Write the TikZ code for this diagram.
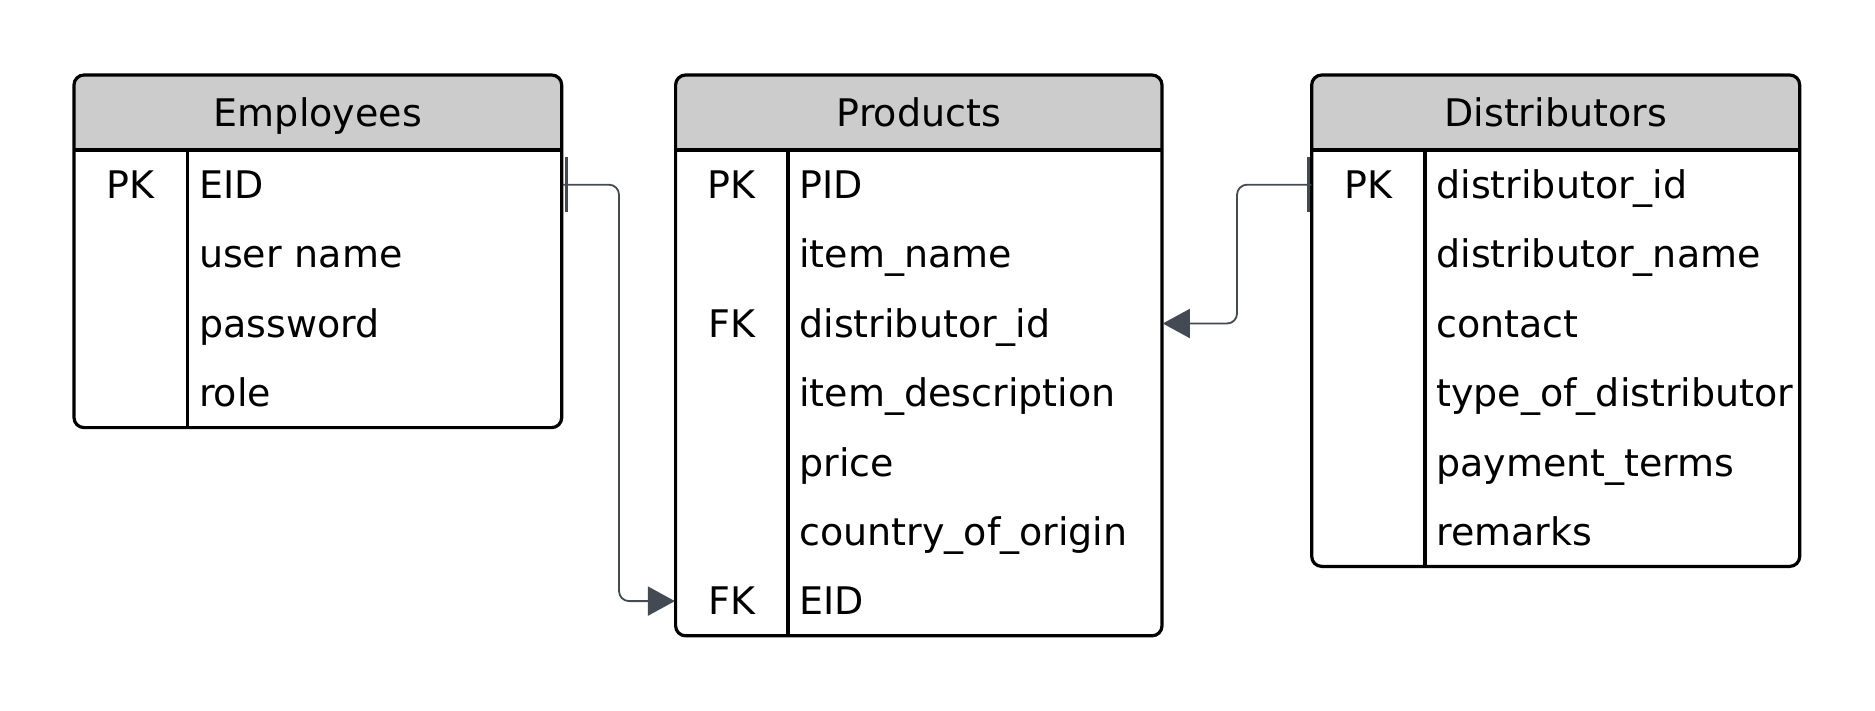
\documentclass[tikz,border=0pt]{standalone}
\usepackage{fontspec}
\setmainfont{DejaVu Sans}
\usetikzlibrary{arrows.meta,calc}
\definecolor{hdr}{HTML}{CCCCCC}
\definecolor{conn}{HTML}{434A54}
\hyphenpenalty=10000
\exhyphenpenalty=10000
\begin{document}
\begin{tikzpicture}[x=0.5pt,y=-0.5pt,
  cell/.style={font=\fontsize{19}{22}\selectfont, text height=17pt, text depth=3.15pt, inner ysep=0pt},
  val/.style={cell, anchor=west, text width=176pt, align=left, inner xsep=5.5pt},
  keycell/.style={cell, anchor=center, minimum width=56.5pt, inner xsep=0pt},
  hdrtext/.style={cell, anchor=center},
  frame/.style={line width=1.6pt, rounded corners=5pt},
  rule/.style={line width=1.6pt},
  connector/.style={draw=conn, line width=0.9pt, rounded corners=5pt, -{Triangle[length=13.5pt,width=14.5pt]}},
  cardbar/.style={draw=conn, line width=1.5pt}
]
\useasboundingbox (0,0) rectangle (1875,711);
\fill[white] (0,0) rectangle (1875,711);

% ---------- Employees ----------
\fill[hdr, rounded corners=5pt] (74,75) rectangle (561.7,150);
\fill[hdr] (74,130) rectangle (561.7,150);
\draw[frame] (74,75) rectangle (561.7,427.6);
\draw[rule] (74,150) -- (561.7,150);
\draw[rule] (187.7,150) -- (187.7,427.6);
\node[hdrtext] (emp) at (317.85,112.5) {Employees};
\node[keycell] (emp-pk) at (130.85,184.7) {PK};
\node[val] (emp-eid) at (187.7,184.7) {EID};
\node[val] (emp-user) at (187.7,254.1) {user name};
\node[val] (emp-pw) at (187.7,323.5) {password};
\node[val] (emp-role) at (187.7,392.9) {role};

% ---------- Products ----------
\fill[hdr, rounded corners=5pt] (675.6,75) rectangle (1162,150);
\fill[hdr] (675.6,130) rectangle (1162,150);
\draw[frame] (675.6,75) rectangle (1162,635.8);
\draw[rule] (675.6,150) -- (1162,150);
\draw[rule] (788,150) -- (788,635.8);
\node[hdrtext] (prod) at (918.8,112.5) {Products};
\node[keycell] (prod-pk) at (731.8,184.7) {PK};
\node[val] (prod-pid) at (788,184.7) {PID};
\node[val] (prod-name) at (788,254.1) {item\_name};
\node[keycell] (prod-fk1) at (731.8,323.5) {FK};
\node[val] (prod-distid) at (788,323.5) {distributor\_id};
\node[val] (prod-desc) at (788,392.9) {item\_description};
\node[val] (prod-price) at (788,462.3) {price};
\node[val] (prod-origin) at (788,531.7) {country\_of\_origin};
\node[keycell] (prod-fk2) at (731.8,601.1) {FK};
\node[val] (prod-eid) at (788,601.1) {EID};

% ---------- Distributors ----------
\fill[hdr, rounded corners=5pt] (1311.7,75) rectangle (1799.7,150);
\fill[hdr] (1311.7,130) rectangle (1799.7,150);
\draw[frame] (1311.7,75) rectangle (1799.7,566.4);
\draw[rule] (1311.7,150) -- (1799.7,150);
\draw[rule] (1425,150) -- (1425,566.4);
\node[hdrtext] (dist) at (1555.7,112.5) {Distributors};
\node[keycell] (dist-pk) at (1368.35,184.7) {PK};
\node[val] (dist-id) at (1425,184.7) {distributor\_id};
\node[val] (dist-name) at (1425,254.1) {distributor\_name};
\node[val] (dist-contact) at (1425,323.5) {contact};
\node[val] (dist-type) at (1425,392.9) {type\_of\_distributor};
\node[val] (dist-pay) at (1425,462.3) {payment\_terms};
\node[val] (dist-rem) at (1425,531.7) {remarks};

% ---------- Connectors ----------
\draw[cardbar] ($(emp-eid.east)+(3.5,-27.5)$) -- ($(emp-eid.east)+(3.5,27.5)$);
\draw[cardbar] ($(dist-pk.west)+(-3,-27.5)$) -- ($(dist-pk.west)+(-3,27.5)$);
\draw[connector] (emp-eid.east) -- ++(56.5,0) |- (prod-fk2.west);
\draw[connector] (dist-pk.west) -- ++(-74.4,0) |- (prod-distid.east);
\end{tikzpicture}
\end{document}
